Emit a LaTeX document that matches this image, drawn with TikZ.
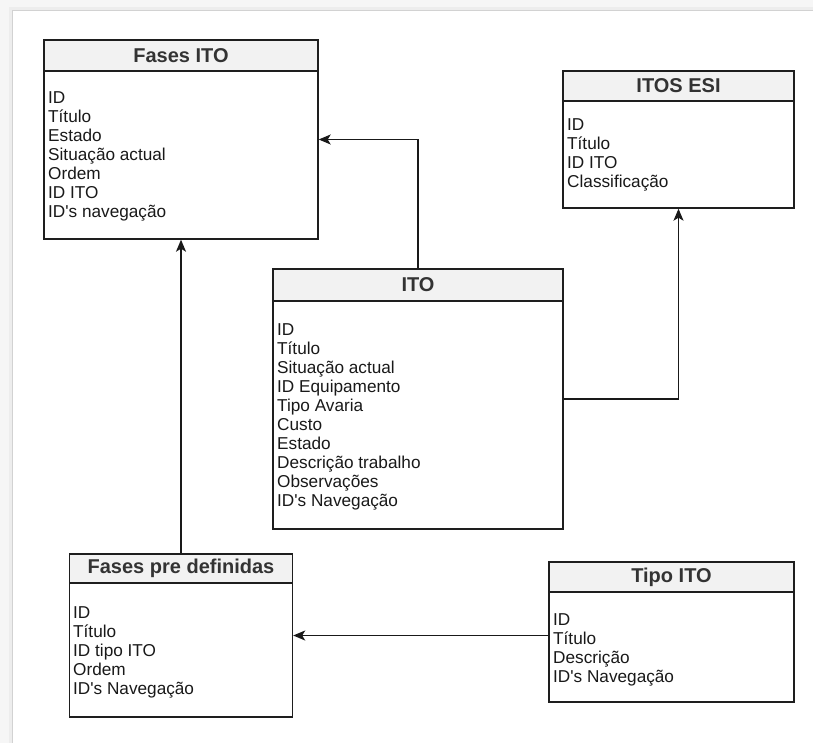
\documentclass[tikz,border=0pt]{standalone}
\usepackage{fontspec}
\newfontfamily\arialfont{Liberation Sans}
\usetikzlibrary{arrows.meta}
\definecolor{hdrgray}{HTML}{F2F2F2}
\definecolor{edgegray}{HTML}{1E1E1E}
\definecolor{titlegray}{HTML}{333333}
\begin{document}
\begin{tikzpicture}[x=1pt,y=-1pt,
  tbl/.style={draw=edgegray,fill=white,line width=1.4pt,inner sep=0pt},
  tblhead/.style={draw=edgegray,fill=hdrgray,line width=1.4pt,inner sep=0pt,minimum height=31pt,
    text=titlegray,font=\arialfont\bfseries\fontsize{20}{22}\selectfont},
  fields/.style={anchor=north west,inner sep=0pt,align=left,text=black!90,
    font=\arialfont\fontsize{17.2}{19}\selectfont},
  link/.style={draw=black!90,line width=1.3pt,-{Stealth[length=12pt,width=10pt,inset=3pt]}}]
\useasboundingbox (0,0) rectangle (813,743);
\fill[gray!7] (0,0) rectangle (813,743);
\fill[gray!14] (9,7) rectangle (813,743);
\fill[white] (12,10) rectangle (813,743);
\draw[gray!35,line width=0.8pt] (12,743) -- (12,10) -- (813,10);
\node[tbl,minimum width=274pt,minimum height=199pt] (fases) at (181,139.5) {};
\node[tblhead,minimum width=274pt,anchor=north] (fasesH) at (fases.north) {Fases ITO};
\node[fields] (fasesF) at (48,91.5) {ID\\Título\\Estado\\Situação actual\\Ordem\\ID ITO\\ID's navegação};
\node[tbl,minimum width=231pt,minimum height=137pt] (itosesi) at (678.5,139.5) {};
\node[tblhead,minimum width=231pt,minimum height=30pt,anchor=north] (itosesiH) at (itosesi.north) {ITOS ESI};
\node[fields] (itosesiF) at (567,118.5) {ID\\Título\\ID ITO\\Classificação};
\node[tbl,minimum width=290pt,minimum height=260pt] (ito) at (418,399) {};
\node[tblhead,minimum width=290pt,minimum height=32pt,anchor=north] (itoH) at (ito.north) {ITO};
\node[fields] (itoF) at (277,323.5) {ID\\Título\\Situação actual\\ID Equipamento\\Tipo Avaria\\Custo\\Estado\\Descrição trabalho\\Observações\\ID's Navegação};
\node[tbl,minimum width=223pt,minimum height=163pt] (predef) at (181,635.5) {};
\node[tblhead,minimum width=223pt,minimum height=29pt,anchor=north] (predefH) at (predef.north) {Fases pre definidas};
\node[fields] (predefF) at (73,606.5) {ID\\Título\\ID tipo ITO\\Ordem\\ID's Navegação};
\node[tbl,minimum width=245pt,minimum height=140pt] (tipo) at (671.5,632) {};
\node[tblhead,minimum width=245pt,minimum height=30pt,anchor=north] (tipoH) at (tipo.north) {Tipo ITO};
\node[fields] (tipoF) at (553,613.5) {ID\\Título\\Descrição\\ID's Navegação};
\draw[link] (ito.north) |- (fases.east);
\draw[link] (ito.east) -| (itosesi.south);
\draw[link] (predef.north) -- (fases.south);
\draw[link] (tipo.west |- predef.east) -- (predef.east);
\end{tikzpicture}
\end{document}
